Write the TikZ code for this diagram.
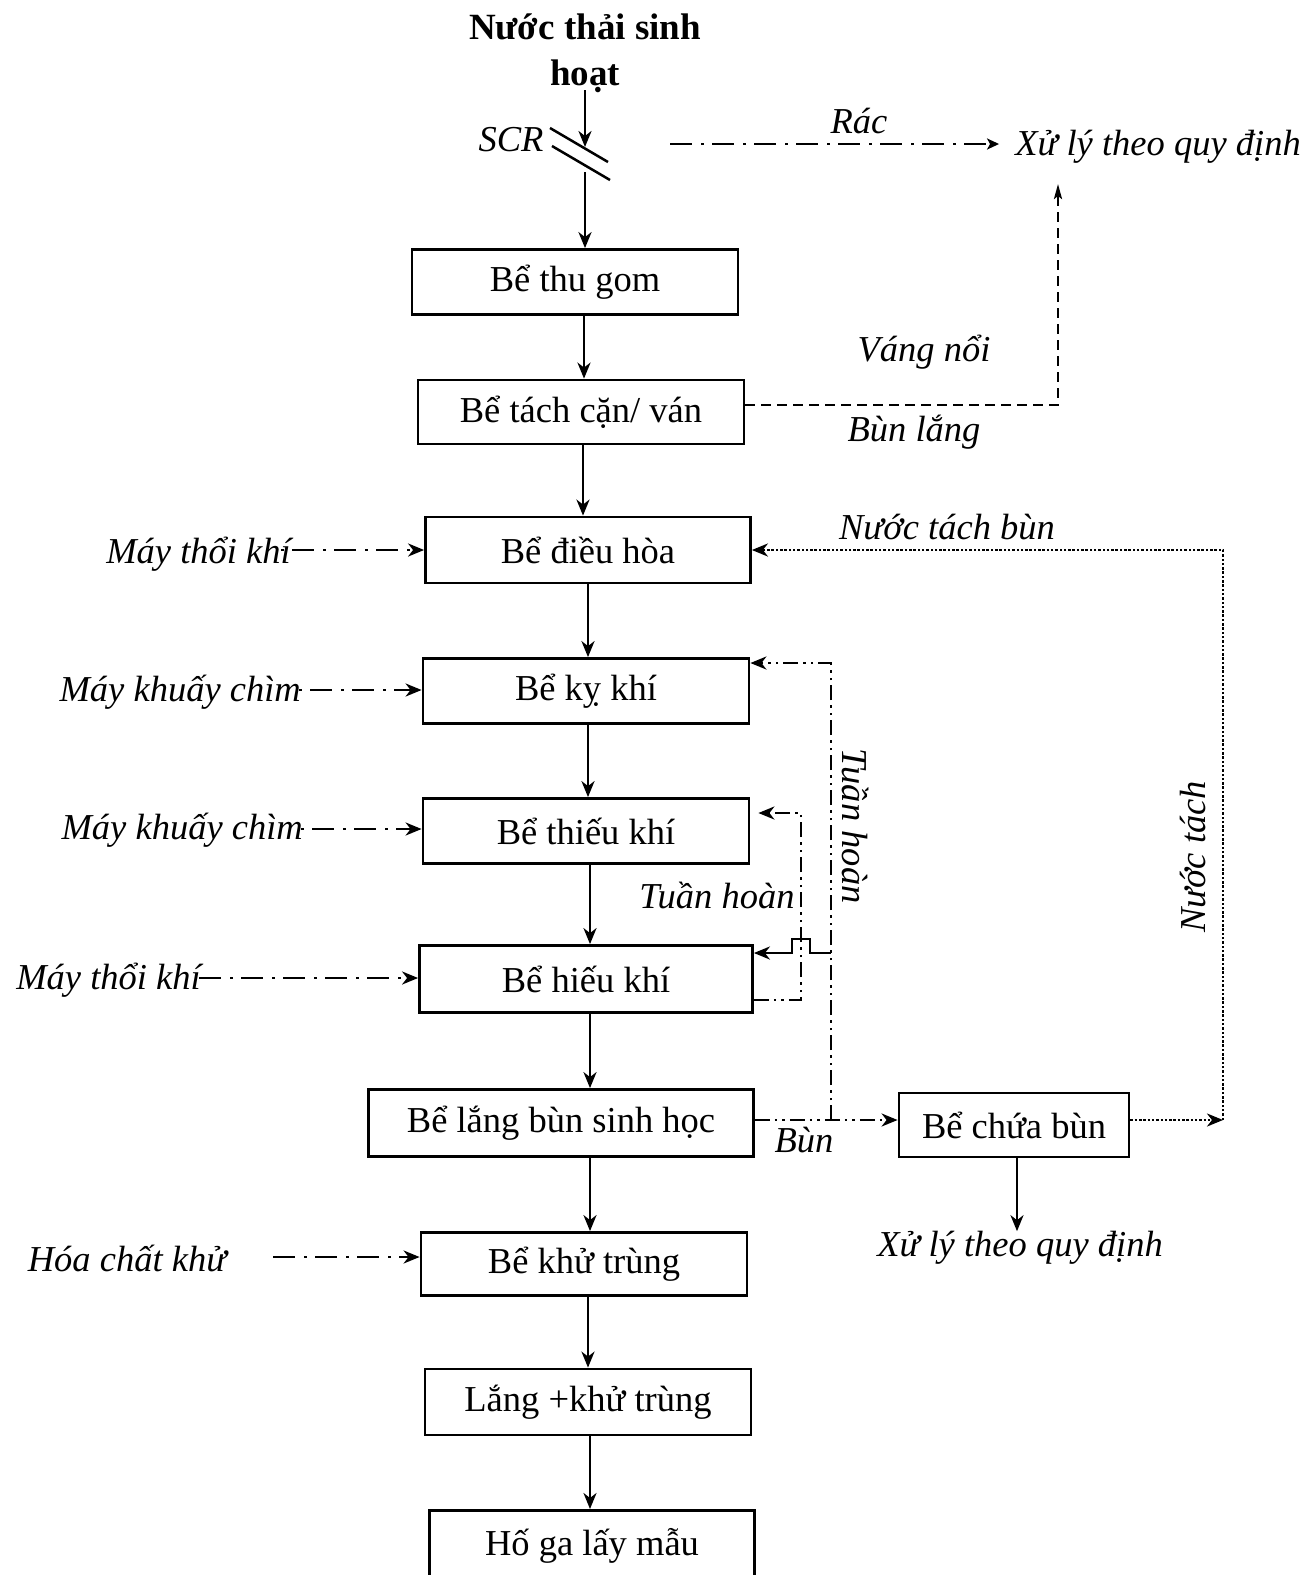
\documentclass[tikz,border=0pt]{standalone}
\usepackage{fontspec}
\setmainfont{Liberation Serif}
\usetikzlibrary{arrows.meta,calc}
\begin{document}
\begin{tikzpicture}[x=1pt,y=-1pt,
  font=\fontsize{36.5}{44}\selectfont,
  box/.style={draw,line width=2.8pt,inner sep=0pt},
  lbl/.style={font=\fontsize{36.5}{44}\selectfont\itshape,inner sep=0pt},
  arr/.style={line width=2.5pt,-{Stealth[length=16pt,width=13pt,inset=5pt]}},
  thin/.style={line width=2.5pt},
  dashdot/.style={dash pattern=on 22pt off 9pt on 3pt off 8pt,dash phase=-12pt},
  dashdotdot/.style={dash pattern=on 15pt off 5pt on 2.5pt off 5pt on 2.5pt off 5pt},
  dens/.style={dash pattern=on 2.5pt off 1.8pt},
  dsh/.style={dash pattern=on 10pt off 6pt}]
\useasboundingbox (0,0) rectangle (1310,1575);
\fill[white] (0,0) rectangle (1310,1575);

% source
\node[font=\fontsize{37}{46}\selectfont\bfseries,align=center,inner sep=0pt] (src) at (585,53) {Nước thải sinh\\hoạt};
\node[lbl] (scr) at (511,140) {SCR};
\draw[thin] (550,128) -- (608,162);
\draw[thin] (552,146) -- (610,180);
\coordinate (in1) at (585,90);
\coordinate (s1) at (585,147);
\coordinate (s2) at (585,172);
\draw[arr] (in1) -- (s1);

% boxes
\node[box,minimum width=326pt,minimum height=65pt] (b1) at (575,282) {Bể thu gom};
\node[box,minimum width=326pt,minimum height=64pt] (b2) at (581,412) {Bể tách cặn/ ván};
\node[box,minimum width=325pt,minimum height=66pt] (b3) at (588,550) {Bể điều hòa};
\node[box,minimum width=326pt,minimum height=65pt] (b4) at (586,691) {Bể kỵ khí};
\node[box,minimum width=326pt,minimum height=65pt] (b5) at (586,831) {Bể thiếu khí};
\node[box,minimum width=333pt,minimum height=67pt] (b6) at (586,979) {Bể hiếu khí};
\node[box,minimum width=385pt,minimum height=67pt] (b7) at (561,1123) {Bể lắng bùn sinh học};
\node[box,minimum width=230pt,minimum height=64pt] (b8) at (1014,1125) {Bể chứa bùn};
\node[box,minimum width=326pt,minimum height=63pt] (b9) at (584,1264) {Bể khử trùng};
\node[box,minimum width=326pt,minimum height=66pt] (b10) at (588,1402) {Lắng +khử trùng};
\node[box,minimum width=325pt,minimum height=70pt,anchor=north] (b11) at (592,1509) {Hố ga lấy mẫu};

% main flow
\draw[arr] (s2) -- (s2 |- b1.north);
\draw[arr] ([xshift=9pt]b1.south) -- ([xshift=9pt]b1.south |- b2.north);
\draw[arr] ([xshift=2pt]b2.south) -- ([xshift=2pt]b2.south |- b3.north);
\draw[arr] (b3.south) -- (b3.south |- b4.north);
\draw[arr] ([xshift=2pt]b4.south) -- ([xshift=2pt]b4.south |- b5.north);
\draw[arr] ([xshift=4pt]b5.south) -- ([xshift=4pt]b5.south |- b6.north);
\draw[arr] ([xshift=4pt]b6.south) -- ([xshift=4pt]b6.south |- b7.north);
\draw[arr] ([xshift=29pt]b7.south) -- ([xshift=29pt]b7.south |- b9.north);
\draw[arr] ([xshift=4pt]b9.south) -- ([xshift=4pt]b9.south |- b10.north);
\draw[arr] ([xshift=2pt]b10.south) -- ([xshift=2pt]b10.south |- b11.north);

% left inputs
\node[lbl,anchor=east] (m1) at (291,554) {Máy thổi khí};
\node[lbl,anchor=east] (m2) at (301,692) {Máy khuấy chìm};
\node[lbl,anchor=east] (m3) at (303,830) {Máy khuấy chìm};
\node[lbl,anchor=east] (m4) at (201,980) {Máy thổi khí};
\node[lbl] (m5) at (127,1258) {Hóa chất khử};
\coordinate (c1) at (280,550);
\coordinate (c2) at (298,690);
\coordinate (c3) at (300,829);
\coordinate (c4) at (199,978);
\coordinate (c5) at (273,1257);
\draw[arr,dashdot] (c1) -- (c1 -| b3.west);
\draw[arr,dashdot] (c2) -- (c2 -| b4.west);
\draw[arr,dashdot] (c3) -- (c3 -| b5.west);
\draw[arr,dashdot,dash phase=0pt] (c4) -- (c4 -| b6.west);
\draw[arr,dashdot,dash phase=0pt] (c5) -- (c5 -| b9.west);

% screenings
\node[lbl] (xl1) at (1158,147) {Xử lý theo quy định};
\node[lbl] (rac) at (859,121) {Rác};
\coordinate (r0) at (670,144);
\draw[thin,dashdot,dash phase=0pt,-{Stealth[length=12pt,width=11pt,inset=3pt]},shorten >=16pt] (r0) -- (r0 -| xl1.west);

% scum / sludge from separator
\node[lbl] (vn) at (924,352) {Váng nổi};
\node[lbl] (bl) at (914,432) {Bùn lắng};
\coordinate (xlb) at (1058,184);
\draw[thin,dsh,-{Stealth[length=15pt,width=8pt,inset=3pt]}] ([yshift=7pt]b2.east) -| (xlb);

% separated water
\node[lbl] (ntb) at (947,527) {Nước tách bùn};
\node[lbl,rotate=90] (nt2) at (1193,857) {Nước tách};
\coordinate (nt) at (1223,1120);
\draw[arr,dens] ([yshift=5pt]b8.east) -- (nt);
\draw[arr,dens] (nt) |- (b3.east);

% sludge line
\node[lbl] (bun) at (804,1140) {Bùn};
\draw[arr,dashdotdot] ([yshift=3pt]b7.east) -- ([yshift=3pt]b7.east -| b8.west);

% outer recirculation
\node[lbl,rotate=-90] (th1) at (855,826) {Tuần hoàn};
\coordinate (o1) at (831,1120);
\draw[arr,dashdotdot] (o1) |- ([yshift=28pt]b4.east);
\coordinate (h0) at (831,953);
\draw[arr] (h0) -- (810,953) -- (810,939) -- (792,939) -- (792,953) -- ([yshift=26pt]b6.east);

% inner recirculation
\node[lbl] (th2) at (717,895) {Tuần hoàn};
\draw[arr,dashdotdot,shorten >=8pt] ([yshift=-21pt]b6.east) -| (801,813) -- ([yshift=18pt]b5.east);

% sludge disposal
\node[lbl] (xl2) at (1020,1248) {Xử lý theo quy định};
\draw[arr] ([xshift=3pt]b8.south) -- ([xshift=3pt]b8.south |- xl2.north);
\end{tikzpicture}
\end{document}
